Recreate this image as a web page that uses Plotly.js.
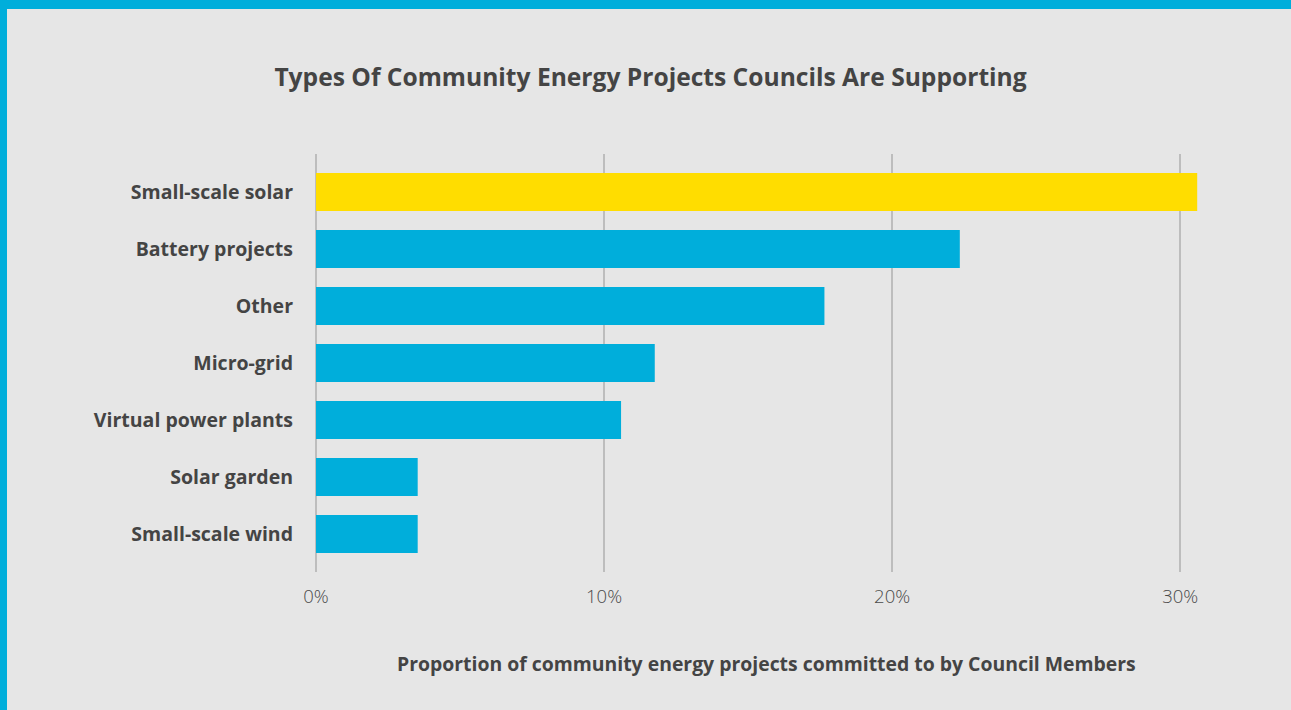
<!DOCTYPE html>
<html>
<head>
<meta charset="utf-8">
<script src="https://cdn.plot.ly/plotly-3.0.1.min.js"></script>
<style>
  html, body { margin: 0; padding: 0; background: #E6E6E6; }
  #wrap { position: relative; width: 1291px; height: 710px; overflow: hidden; }
  #chart { position: absolute; left: 0; top: 0; width: 1291px; height: 710px; }
  .bar-top { position: absolute; left: 0; top: 0; width: 1291px; height: 9px; background: #00AEDB; }
  .bar-left { position: absolute; left: 0; top: 0; width: 7px; height: 710px; background: #00AEDB; }
</style>
</head>
<body>
<div id="wrap">
  <div id="chart"></div>
  <div class="bar-top"></div>
  <div class="bar-left"></div>
</div>
<script>
const categories = ["Small-scale solar", "Battery projects", "Other", "Micro-grid", "Virtual power plants", "Solar garden", "Small-scale wind"];
const values = [30.59, 22.35, 17.65, 11.76, 10.59, 3.53, 3.53];
const barColors = ["#FFDD00", "#00AEDB", "#00AEDB", "#00AEDB", "#00AEDB", "#00AEDB", "#00AEDB"];
const tickValues = [0, 10, 20, 30];
const tickLabels = ["0%", "10%", "20%", "30%"];
const chartTitle = "Types Of Community Energy Projects Councils Are Supporting";
const xTitle = "Proportion of community energy projects committed to by Council Members";

const FONT = "'Open Sans', Lato, sans-serif";

const trace = {
  type: "bar",
  orientation: "h",
  y: categories,
  x: values,
  marker: { color: barColors },
  hoverinfo: "none"
};

const layout = {
  width: 1291,
  height: 710,
  paper_bgcolor: "#E6E6E6",
  plot_bgcolor: "#E6E6E6",
  margin: { l: 316, r: 82, t: 154, b: 138 },
  bargap: 0.333,
  showlegend: false,
  title: {
    text: "<b>" + chartTitle + "</b>",
    font: { family: FONT, size: 24.6, color: "#444444" },
    x: 650.5 / 1291, xref: "container", xanchor: "center",
    y: 1 - 77 / 710, yref: "container", yanchor: "middle"
  },
  xaxis: {
    range: [0, 31],
    tickvals: tickValues,
    ticktext: tickLabels,
    showgrid: true,
    gridcolor: "#BDBDBD",
    gridwidth: 1.5,
    zeroline: true,
    zerolinecolor: "#BDBDBD",
    zerolinewidth: 1.5,
    showline: false,
    ticks: "",
    ticklabelstandoff: 11,
    tickfont: { family: FONT, size: 18.5, color: "#4a4a4a", weight: 300 },
    fixedrange: true
  },
  yaxis: {
    type: "category",
    categoryorder: "array",
    categoryarray: categories,
    range: [6.667, -0.667],
    showgrid: false,
    zeroline: false,
    showline: false,
    ticks: "",
    ticklabelstandoff: 22,
    tickfont: { family: FONT, size: 19.5, color: "#444444", weight: 700 },
    fixedrange: true
  },
  annotations: [{
    text: "<b>" + xTitle + "</b>",
    xref: "paper", yref: "paper",
    x: (766 - 316) / 893, y: -(663 - 572) / 418,
    xanchor: "center", yanchor: "middle",
    showarrow: false,
    font: { family: FONT, size: 19.4, color: "#444444" }
  }]
};

Plotly.newPlot("chart", [trace], layout, { displayModeBar: false, staticPlot: true });
</script>
</body>
</html>
